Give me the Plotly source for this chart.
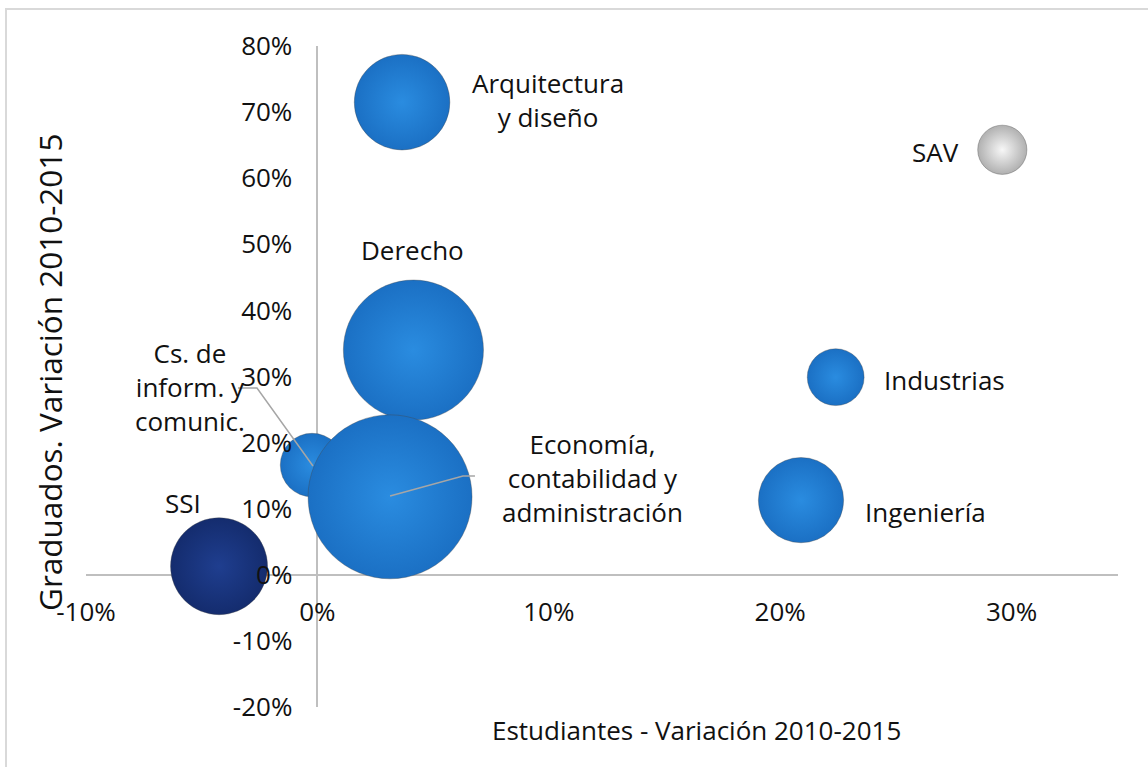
import plotly.graph_objects as go

# ---- data ----
areas = ["Arquitectura y diseño", "SAV", "Derecho", "Industrias",
         "Cs. de inform. y comunic.", "Economía, contabilidad y administración",
         "Ingeniería", "SSI"]
estudiantes_var = [0.0366, 0.296, 0.0415, 0.224, -0.0023, 0.0314, 0.209, -0.0425]
graduados_var = [0.715, 0.643, 0.340, 0.299, 0.166, 0.118, 0.113, 0.013]
tamano = [34, 9, 73, 12, 15, 100, 27, 35]

x_ticks = [-0.1, 0.0, 0.1, 0.2, 0.3]
x_tick_labels = ["-10%", "0%", "10%", "20%", "30%"]
y_ticks = [-0.2, -0.1, 0.0, 0.1, 0.2, 0.3, 0.4, 0.5, 0.6, 0.7, 0.8]
y_tick_labels = ["-20%", "-10%", "0%", "10%", "20%", "30%", "40%", "50%", "60%", "70%", "80%"]

label_text = ["Arquitectura<br>y diseño", "SAV", "Derecho", "Industrias",
              "Cs. de<br>inform. y<br>comunic.", "Economía,<br>contabilidad y<br>administración",
              "Ingeniería", "SSI"]
label_x = [0.0997, 0.278, 0.041, 0.244, -0.055, 0.1187, 0.236, -0.058]
label_y = [0.718, 0.640, 0.491, 0.295, 0.284, 0.146, 0.095, 0.109]
label_anchor = ["center", "right", "center", "left", "center", "center", "left", "center"]

FONT = "Open Sans"
BLUE_C, BLUE_E = "#2a8ce0", "#1b70c4"
centers = [BLUE_C, "#f7f7f7", BLUE_C, BLUE_C, BLUE_C, BLUE_C, BLUE_C, "#1f3e8f"]
edges = [BLUE_E, "#b0b0b0", BLUE_E, BLUE_E, BLUE_E, BLUE_E, BLUE_E, "#142c6e"]

max_d = 164
sizeref = 2.0 * max(tamano) / (max_d ** 2)

fig = go.Figure()
for i in range(len(areas)):
    fig.add_trace(go.Scatter(
        x=[estudiantes_var[i]], y=[graduados_var[i]], mode="markers", name=areas[i],
        marker=dict(size=[tamano[i]], sizemode="area", sizeref=sizeref, opacity=1,
                    color=edges[i],
                    gradient=dict(type="radial", color=centers[i]),
                    line=dict(color="rgba(70,70,70,0.35)", width=1)),
        hoverinfo="text", text=areas[i], showlegend=False))

for t, lx, ly, anc in zip(label_text, label_x, label_y, label_anchor):
    fig.add_annotation(x=lx, y=ly, xref="x", yref="y", text=t, showarrow=False,
                       xanchor=anc, yanchor="middle", align="center",
                       font=dict(family=FONT, size=26, color="#111"))

# leader lines
lead_cs_x = [-0.0343, -0.0261, -0.0019]
lead_cs_y = [0.2826, 0.2826, 0.1646]
lead_ec_x = [0.0314, 0.0629, 0.0681]
lead_ec_y = [0.1192, 0.1495, 0.1495]
for lx, ly in [(lead_cs_x, lead_cs_y), (lead_ec_x, lead_ec_y)]:
    fig.add_trace(go.Scatter(x=lx, y=ly, mode="lines", line=dict(color="#a6a6a6", width=1.5),
                             hoverinfo="skip", showlegend=False))

xr = [-0.10, 0.346]
yr = [-0.2, 0.8]

fig.update_layout(
    width=1148, height=767,
    margin=dict(l=86, r=30, t=46, b=60),
    paper_bgcolor="white", plot_bgcolor="white",
    font=dict(family=FONT, size=26, color="#111"),
    xaxis=dict(range=xr, tickvals=x_ticks, ticktext=x_tick_labels, showgrid=False,
               zeroline=True, zerolinecolor="#bfbfbf", zerolinewidth=1.5, showline=False,
               anchor="free", position=(0 - yr[0]) / (yr[1] - yr[0]), ticks="",
               ticklabelstandoff=19, tickfont=dict(family=FONT, size=26, color="#111")),
    yaxis=dict(range=yr, tickvals=y_ticks, ticktext=y_tick_labels, showgrid=False,
               zeroline=True, zerolinecolor="#bfbfbf", zerolinewidth=1.5, showline=False,
               anchor="free", position=(0 - xr[0]) / (xr[1] - xr[0]), ticks="",
               ticklabelstandoff=25, tickfont=dict(family=FONT, size=26, color="#111")),
)

fig.add_annotation(xref="paper", yref="paper", x=(50 - 86) / 1032, y=(707 - 373) / 661,
                   text="Graduados. Variación 2010-2015", textangle=-90, showarrow=False,
                   xanchor="center", yanchor="middle",
                   font=dict(family=FONT, size=31.5, color="#111"))
fig.add_annotation(xref="paper", yref="paper", x=(696 - 86) / 1032, y=(707 - 730) / 661,
                   text="Estudiantes - Variación 2010-2015", showarrow=False,
                   xanchor="center", yanchor="middle",
                   font=dict(family=FONT, size=26, color="#111"))

fig.add_shape(type="rect", xref="paper", yref="paper",
              x0=(6 - 86) / 1032, x1=1.2, y0=-0.3, y1=1 + 37 / 661,
              line=dict(color="#d9d9d9", width=2), layer="below")

fig.write_html("out.html", config={"displayModeBar": False},
               post_script="document.body.style.margin='0';")
